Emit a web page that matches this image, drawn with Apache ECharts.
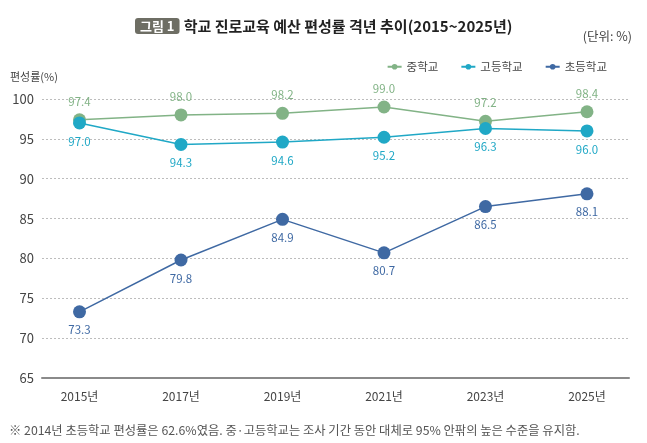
<!DOCTYPE html>
<html>
<head>
<meta charset="utf-8">
<title>학교 진로교육 예산 편성률</title>
<script src="https://cdn.jsdelivr.net/npm/echarts@6/dist/echarts.min.js"></script>
<style>
  html, body { margin: 0; padding: 0; background: #fff; }
  #chart { width: 647px; height: 443px; }
</style>
</head>
<body>
<div id="chart"></div>
<script>
  // 연도, 학교급별 편성률(%)
  var years = [2015, 2017, 2019, 2021, 2023, 2025];
  var middle = [97.4, 98.0, 98.2, 99.0, 97.2, 98.4];
  var high = [97.0, 94.3, 94.6, 95.2, 96.3, 96.0];
  var elem = [73.3, 79.8, 84.9, 80.7, 86.5, 88.1];
  var yTicks = [65, 70, 75, 80, 85, 90, 95, 100];

  var FONT = '"Noto Sans CJK KR", "Noto Sans", sans-serif';
  var C_MID = '#82b386';
  var C_HIGH = '#20a8c6';
  var C_ELEM = '#3f69a3';

  function pairs(arr) {
    return arr.map(function (v, i) { return [years[i], v]; });
  }

  function makeSeries(name, arr, color, pos) {
    return {
      name: name,
      type: 'line',
      data: pairs(arr),
      symbol: 'circle',
      symbolSize: 13,
      lineStyle: { color: color, width: 1.5 },
      itemStyle: { color: color },
      label: {
        show: true,
        position: pos,
        distance: 6,
        color: color,
        fontFamily: FONT,
        fontSize: 11.5,
        formatter: function (p) { return p.value[1].toFixed(1); }
      },
      z: 3
    };
  }

  var myChart = echarts.init(document.getElementById('chart'), null, { renderer: 'canvas' });
  var option = {
    backgroundColor: '#fff',
    animation: false,
    textStyle: { fontFamily: FONT },
    title: [{
      text: '{box|그림 1} {t|학교 진로교육 예산 편성률 격년 추이(2015~2025년)}',
      left: 130,
      top: 12,
      textStyle: {
        rich: {
          box: {
            backgroundColor: '#6e6e64',
            color: '#fff',
            borderRadius: 3,
            padding: [2, 5, 1, 5],
            fontSize: 13,
            fontWeight: 'bold',
            fontFamily: FONT
          },
          t: {
            color: '#222',
            fontSize: 15,
            fontWeight: 'bold',
            fontFamily: FONT
          }
        }
      }
    }, {
      text: '(단위: %)',
      right: 10,
      top: 25,
      textStyle: { color: '#444', fontSize: 12.5, fontWeight: 'normal', fontFamily: FONT }
    }, {
      text: '※ 2014년 초등학교 편성률은 62.6%였음. 중·고등학교는 조사 기간 동안 대체로 95% 안팎의 높은 수준을 유지함.',
      left: 4,
      top: 419,
      textStyle: { color: '#555', fontSize: 12.3, fontWeight: 'normal', fontFamily: FONT }
    }],
    legend: {
      right: 35,
      top: 56,
      itemWidth: 14,
      itemHeight: 7,
      itemGap: 22,
      textStyle: { color: '#444', fontSize: 11.5, fontFamily: FONT },
      data: ['중학교', '고등학교', '초등학교']
    },
    grid: { left: 42, right: 18, top: 99, bottom: 65 },
    xAxis: {
      type: 'value',
      min: 2014.261,
      max: 2025.828,
      axisLine: { show: true, onZero: false, lineStyle: { color: '#8a8a8a', width: 2 } },
      axisTick: { show: false },
      splitLine: { show: false },
      axisLabel: {
        customValues: years,
        color: '#444',
        fontSize: 12,
        margin: 12,
        fontFamily: FONT,
        formatter: function (v) { return v + '년'; }
      }
    },
    yAxis: {
      type: 'value',
      min: yTicks[0],
      max: yTicks[yTicks.length - 1],
      interval: 5,
      name: '편성률(%)',
      nameLocation: 'end',
      nameGap: 17,
      nameTextStyle: { color: '#444', fontSize: 11, fontFamily: FONT, align: 'left', padding: [0, 0, 0, -32] },
      axisLine: { show: false },
      axisTick: { show: false },
      axisLabel: { color: '#444', fontSize: 13, margin: 8, fontFamily: FONT },
      splitLine: { lineStyle: { color: '#bdbdbd', type: [2, 2], width: 1 } }
    },
    series: [
      makeSeries('중학교', middle, C_MID, 'top'),
      makeSeries('고등학교', high, C_HIGH, 'bottom'),
      makeSeries('초등학교', elem, C_ELEM, 'bottom')
    ]
  };
  myChart.setOption(option);
</script>
</body>
</html>
